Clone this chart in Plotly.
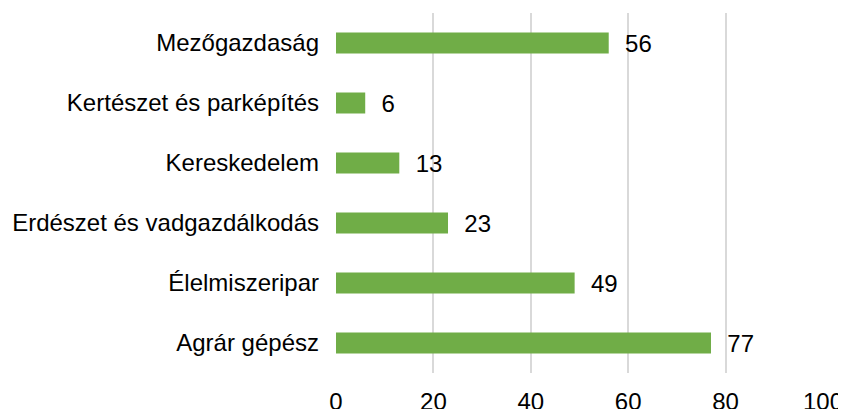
import plotly.graph_objects as go

categories = ["Mezőgazdaság", "Kertészet és parképítés", "Kereskedelem",
              "Erdészet és vadgazdálkodás", "Élelmiszeripar", "Agrár gépész"]
values = [56, 6, 13, 23, 49, 77]
x_ticks = [0, 20, 40, 60, 80, 100]

FONT = "Liberation Sans, Arial"
FS = 24

fig = go.Figure(go.Bar(
    y=categories, x=values, orientation="h",
    marker=dict(color="#70AD47", line=dict(width=0)),
    text=values, texttemplate="\u00a0\u00a0%{text}", textposition="outside",
    textfont=dict(family=FONT, size=FS, color="#000000"),
    constraintext="none", cliponaxis=False,
))

# page body has an 8px margin, so the figure is sized/offset to compensate
fig.update_layout(
    width=838, height=401,
    margin=dict(l=328, r=23, t=5, b=36, autoexpand=False),
    paper_bgcolor="white", plot_bgcolor="white",
    bargap=0.65, showlegend=False,
    font=dict(family=FONT, size=FS, color="#000000"),
)
fig.update_xaxes(range=[0, 100], tickvals=x_ticks, showgrid=True, gridcolor="#D9D9D9",
                 gridwidth=1.5, zeroline=False, showline=False, ticks="",
                 automargin=False, ticklabelstandoff=12, tickfont=dict(size=FS))
fig.update_yaxes(autorange="reversed", showgrid=False, zeroline=False, showline=False,
                 automargin=False, ticks="", ticklabelstandoff=16, tickfont=dict(size=FS))

fig.write_html("out.html")
